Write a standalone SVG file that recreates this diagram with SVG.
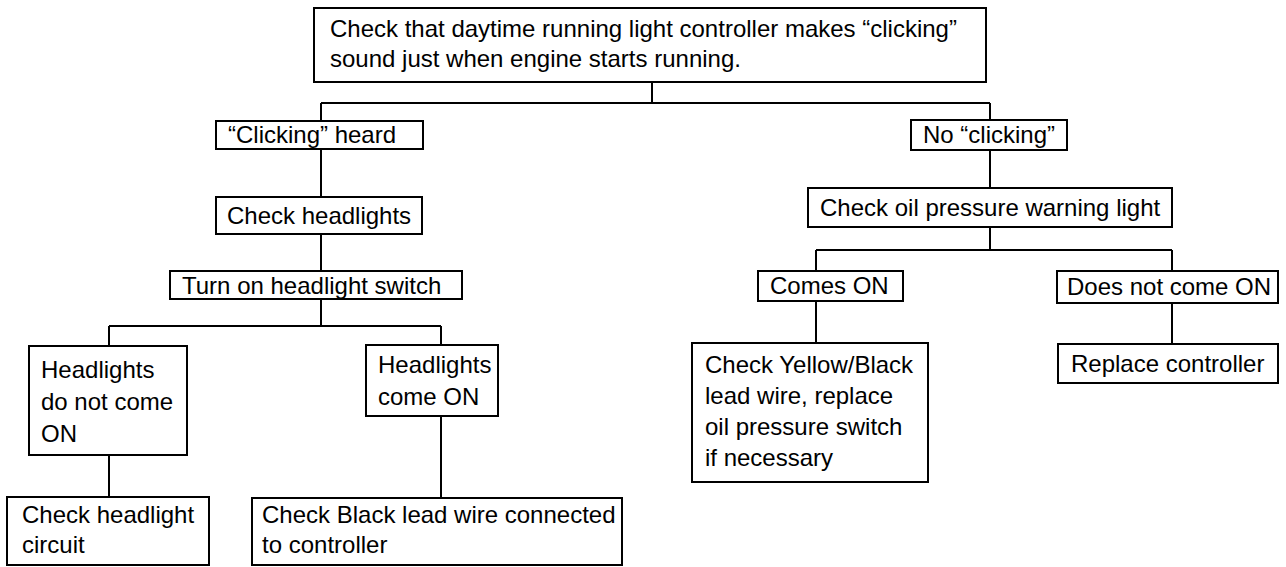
<svg xmlns="http://www.w3.org/2000/svg" width="1286" height="567" viewBox="0 0 1286 567">
<style>
.b{fill:#fff;stroke:#000;stroke-width:2}
.t{font-family:"Liberation Sans",Arial,sans-serif;font-size:24px;fill:#000}
.c{fill:none;stroke:#000;stroke-width:2}
</style>
<rect width="1286" height="567" fill="#fff"/>
<g id="connectors">
<path class="c" d="M652 82V103M321 103H990M321 103V121M321 149V197M321 234V271M321 299V326M109 326H441M109 326V346M441 326V345M109 455V497M441 416V498M990 103V120M990 150V188M990 227V250M816 250H1172M816 250V271M1172 250V271M816 301V343M1172 303V344"/>
</g>
<g id="n_top"><rect class="b" x="314" y="8" width="672" height="74"/>
<text class="t" x="330" y="37">Check that daytime running light controller makes “clicking”</text>
<text class="t" x="330" y="67">sound just when engine starts running.</text></g>
<g id="n_clicking"><rect class="b" x="216" y="121" width="207" height="28"/><text class="t" x="228" y="143">“Clicking” heard</text></g>
<g id="n_checkhead"><rect class="b" x="216" y="197" width="206" height="37"/><text class="t" x="227" y="224">Check headlights</text></g>
<g id="n_turnon"><rect class="b" x="170" y="271" width="292" height="28"/><text class="t" x="182" y="294">Turn on headlight switch</text></g>
<g id="n_notcome"><rect class="b" x="29" y="346" width="158" height="109"/><text class="t" x="41" y="378">Headlights</text><text class="t" x="41" y="410">do not come</text><text class="t" x="41" y="442">ON</text></g>
<g id="n_come"><rect class="b" x="366" y="345" width="132" height="71"/><text class="t" x="378" y="373">Headlights</text><text class="t" x="378" y="405">come ON</text></g>
<g id="n_circuit"><rect class="b" x="7" y="497" width="202" height="68"/><text class="t" x="22" y="523">Check headlight</text><text class="t" x="22" y="553">circuit</text></g>
<g id="n_black"><rect class="b" x="252" y="498" width="370" height="67"/><text class="t" x="262" y="523">Check Black lead wire connected</text><text class="t" x="262" y="553">to controller</text></g>
<g id="n_noclick"><rect class="b" x="911" y="120" width="156" height="30"/><text class="t" x="923" y="143">No “clicking”</text></g>
<g id="n_oil"><rect class="b" x="808" y="188" width="364" height="39"/><text class="t" x="820" y="216">Check oil pressure warning light</text></g>
<g id="n_comeson"><rect class="b" x="758" y="271" width="145" height="30"/><text class="t" x="770" y="294">Comes ON</text></g>
<g id="n_doesnot"><rect class="b" x="1057" y="271" width="221" height="32"/><text class="t" x="1067" y="295">Does not come ON</text></g>
<g id="n_yellow"><rect class="b" x="692" y="343" width="236" height="139"/><text class="t" x="705" y="373">Check Yellow/Black</text><text class="t" x="705" y="404">lead wire, replace</text><text class="t" x="705" y="435">oil pressure switch</text><text class="t" x="705" y="466">if necessary</text></g>
<g id="n_replace"><rect class="b" x="1058" y="344" width="220" height="39"/><text class="t" x="1071" y="372">Replace controller</text></g>
</svg>
